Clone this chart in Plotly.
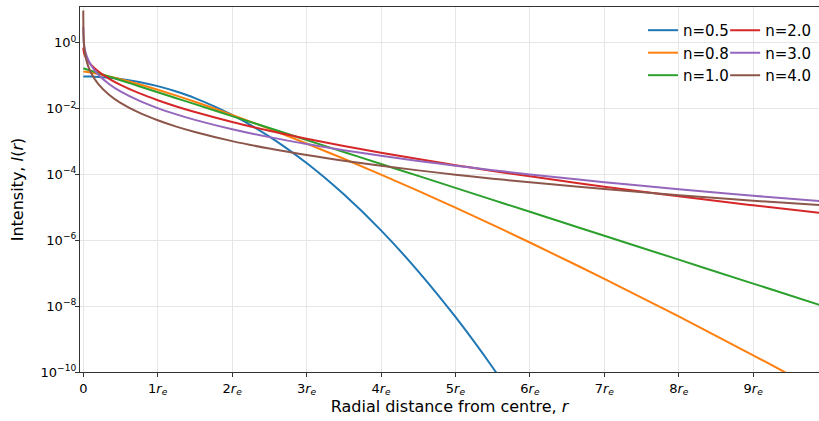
import plotly.graph_objects as go

# radial distance in units of r_e
r_values = [0, 0.01, 0.03, 0.06, 0.1, 0.2, 0.35, 0.5, 0.75, 1, 1.25, 1.5, 2, 2.5, 3,
            3.5, 4, 4.5, 5, 5.5, 6, 7, 8, 9, 10]

n_labels = ["n=0.5", "n=0.8", "n=1.0", "n=2.0", "n=3.0", "n=4.0"]

i_n05 = [0.0933, 0.0933, 0.0933, 0.0931, 0.0927, 0.0908, 0.0859, 0.0789, 0.0639, 0.0476,
         0.0326, 0.0206, 6.34e-3, 1.40e-3, 2.20e-4, 2.47e-5, 1.99e-6, 1.14e-7, 4.68e-9,
         1.37e-10, 2.87e-12, 4.59e-16, 1.91e-20, 2.08e-25, 5.89e-31]
i_n08 = [0.1318, 0.1313, 0.1297, 0.1269, 0.1227, 0.1112, 0.0936, 0.0772, 0.0542, 0.0369,
         0.0245, 0.01595, 6.39e-3, 2.41e-3, 8.67e-4, 2.98e-4, 9.86e-5, 3.15e-5, 9.74e-6,
         2.92e-6, 8.53e-7, 6.73e-8, 4.85e-9, 3.21e-10, 1.96e-11]
i_n10 = [0.166, 0.1632, 0.1578, 0.1501, 0.1404, 0.1188, 0.0924, 0.0719, 0.0473, 0.0312,
         0.0205, 0.0135, 5.86e-3, 2.54e-3, 1.10e-3, 4.77e-4, 2.07e-4, 8.96e-5, 3.88e-5,
         1.68e-5, 7.29e-6, 1.37e-6, 2.57e-7, 4.83e-8, 9.08e-9]
i_n20 = [0.699, 0.484, 0.370, 0.284, 0.2189, 0.1353, 0.0796, 0.0521, 0.0291, 0.01778,
         0.01153, 7.79e-3, 3.89e-3, 2.11e-3, 1.21e-3, 7.27e-4, 4.52e-4, 2.90e-4, 1.90e-4,
         1.27e-4, 8.69e-5, 4.22e-5, 2.16e-5, 1.15e-5, 6.34e-6]
i_n30 = [2.970, 0.875, 0.510, 0.323, 0.2135, 0.1078, 0.0546, 0.0330, 0.0172, 0.01023,
         6.61e-3, 4.50e-3, 2.34e-3, 1.35e-3, 8.34e-4, 5.42e-4, 3.66e-4, 2.55e-4, 1.83e-4,
         1.34e-4, 9.95e-5, 5.78e-5, 3.53e-5, 2.24e-5, 1.47e-5]
i_n40 = [9.35, 0.827, 0.384, 0.2101, 0.1253, 0.0554, 0.0256, 0.01479, 7.44e-3, 4.37e-3,
         2.81e-3, 1.93e-3, 1.02e-3, 6.06e-4, 3.87e-4, 2.60e-4, 1.82e-4, 1.32e-4, 9.78e-5,
         7.41e-5, 5.72e-5, 3.57e-5, 2.34e-5, 1.59e-5, 1.12e-5]

x_tick_vals = [0, 1, 2, 3, 4, 5, 6, 7, 8, 9]
x_tick_text = ["0"] + [f"{k}<i>r<sub>e</sub></i>" for k in x_tick_vals[1:]]
y_tick_vals = [1, 1e-2, 1e-4, 1e-6, 1e-8, 1e-10]
y_tick_text = ["10<sup>0</sup>", "10<sup>\u22122</sup>", "10<sup>\u22124</sup>",
               "10<sup>\u22126</sup>", "10<sup>\u22128</sup>", "10<sup>\u221210</sup>"]

colors = ["#1f77b4", "#ff7f0e", "#2ca02c", "#d62728", "#9467bd", "#8c564b"]
series = [i_n05, i_n08, i_n10, i_n20, i_n30, i_n40]
legend_ids = ["legend", "legend", "legend", "legend2", "legend2", "legend2"]

fig = go.Figure()
for lab, vals, col, lg in zip(n_labels, series, colors, legend_ids):
    fig.add_trace(go.Scatter(
        x=r_values, y=vals, mode="lines", name=lab,
        line=dict(color=col, width=2, shape="spline", smoothing=1.0),
        legend=lg, legendgroup=lab,
    ))

legend_common = dict(
    orientation="v", xanchor="left", yanchor="top",
    bgcolor="rgba(0,0,0,0)", borderwidth=0,
    font=dict(family="DejaVu Sans", size=15, color="black"),
    tracegroupgap=4, traceorder="normal",
)

fig.update_layout(
    width=819, height=421,
    margin=dict(l=80, r=0, t=7, b=49, autoexpand=False),
    paper_bgcolor="white", plot_bgcolor="white",
    font=dict(family="DejaVu Sans", size=13, color="black"),
    showlegend=True,
    legend=dict(x=0.7618, y=0.981, **legend_common),
    legend2=dict(x=0.8730, y=0.981, **legend_common),
)

axis_common = dict(
    showgrid=True, gridcolor="#e6e6e6", gridwidth=1,
    showline=True, linecolor="#333333", linewidth=1.2,
    ticks="outside", ticklen=4, tickwidth=1, tickcolor="#333333",
    zeroline=False, automargin=False,
    tickfont=dict(family="DejaVu Sans", size=13, color="black"),
)

fig.update_xaxes(
    range=[-0.044, 9.884], tickmode="array", tickvals=x_tick_vals, ticktext=x_tick_text,
    mirror=True,
    title=dict(text="Radial distance from centre, <i>r</i>",
               font=dict(family="DejaVu Sans", size=16, color="black"), standoff=4),
    **axis_common,
)
fig.update_yaxes(
    type="log", range=[-10, 1.08], tickmode="array", tickvals=y_tick_vals, ticktext=y_tick_text,
    mirror=False, ticklabelstandoff=-4,
    title=dict(text="Intensity, <i>I</i>(<i>r</i>)",
               font=dict(family="DejaVu Sans", size=16, color="black"), standoff=12),
    **axis_common,
)

fig.write_html(
    "out.html",
    config={"displayModeBar": False},
    post_script="document.body.style.margin='0';document.body.style.padding='0';",
)
